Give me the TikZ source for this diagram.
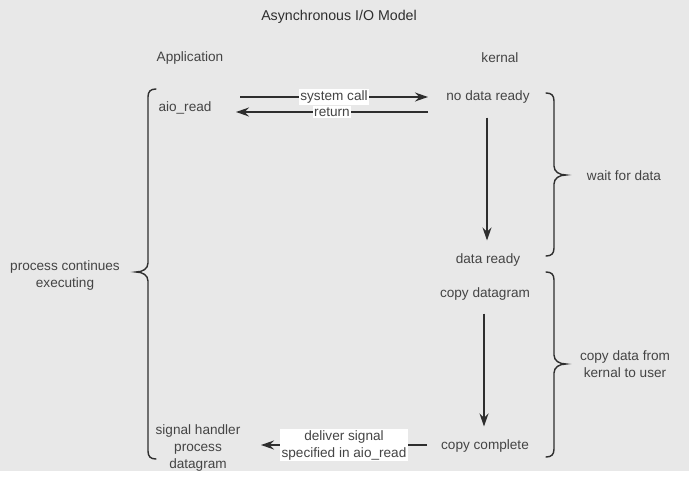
\documentclass[tikz,border=0pt]{standalone}
\usepackage{fontspec}
\setmainfont{Liberation Sans}
\usetikzlibrary{arrows.meta}
\definecolor{bg}{HTML}{E8E8E8}
\definecolor{txt}{HTML}{444444}
\definecolor{ttl}{HTML}{2E2E2E}
\definecolor{ln}{HTML}{2E2E2E}
\begin{document}
\begin{tikzpicture}[x=1pt,y=-1pt,
  lbl/.style={text=txt,font=\fontsize{13.6}{17}\selectfont,align=center,inner sep=2pt},
  onl/.style={lbl,fill=white,inner sep=1.5pt},
  arr/.style={draw=ln,line width=1.4pt,-{Stealth[length=13pt,width=9pt]}},
  brc/.style={draw=ln,line width=1.4pt,line cap=round}]
\useasboundingbox (0,0) rectangle (694,478);
\fill[bg] (0,0) rectangle (689,471);
% texts
\node[lbl,text=ttl,font=\fontsize{14.2}{17}\selectfont] (title) at (339,17) {Asynchronous I/O Model};
\node[lbl] (app) at (190,58) {Application};
\node[lbl] (kern) at (500,58) {kernal};
\node[lbl] (aio) at (185,108) {aio\_read};
\node[lbl] (ndr) at (488,97) {no data ready};
\node[lbl] (dr) at (488,260) {data ready};
\node[lbl] (cd) at (485,294) {copy datagram};
\node[lbl] (cc) at (485,446) {copy complete};
\node[lbl] (sh) at (198,448) {signal handler\\process\\datagram};
\node[lbl] (pce) at (65,275) {process continues\\executing};
\node[lbl] (wfd) at (624,176) {wait for data};
\node[lbl] (cdk) at (625,364) {copy data from\\kernal to user};
% horizontal connectors
\coordinate (sc1) at (240,97);
\coordinate (sc2) at (428,97);
\coordinate (rt1) at (428,112);
\coordinate (rt2) at (236,112);
\draw[arr] (sc1) -- node[onl] {system call} (sc2);
\draw[arr] (rt1) -- node[onl] {return} (rt2);
\coordinate (dl1) at (427,445);
\coordinate (dl2) at (261,445);
\draw[arr] (dl1) -- node[onl] {deliver signal\\specified in aio\_read} (dl2);
% vertical connectors
\draw[arr,shorten <=12pt,shorten >=11pt] (ndr.south -| 487,0) -- (dr.north -| 487,0);
\draw[arr,shorten <=11pt,shorten >=11pt] (cd.south -| 484,0) -- (cc.north -| 484,0);
% braces
\draw[brc] (156,89) .. controls (150.5,89) and (148,91.5) .. (148,97) -- (148,263)
  .. controls (148,268.5) and (143,272) .. (136,272)
  .. controls (143,272) and (148,275.5) .. (148,281) -- (148,451)
  .. controls (148,456.5) and (150.5,459) .. (156,459);
\draw[brc] (546,93) .. controls (551.5,93) and (554,95.5) .. (554,101) -- (554,166)
  .. controls (554,171.5) and (559,175) .. (566,175)
  .. controls (559,175) and (554,178.5) .. (554,184) -- (554,248)
  .. controls (554,253.5) and (551.5,256) .. (546,256);
\draw[brc] (546,272) .. controls (551.5,272) and (554,274.5) .. (554,280) -- (554,355)
  .. controls (554,360.5) and (559,364) .. (566,364)
  .. controls (559,364) and (554,367.5) .. (554,373) -- (554,449)
  .. controls (554,454.5) and (551.5,457) .. (546,457);
\end{tikzpicture}
\end{document}
